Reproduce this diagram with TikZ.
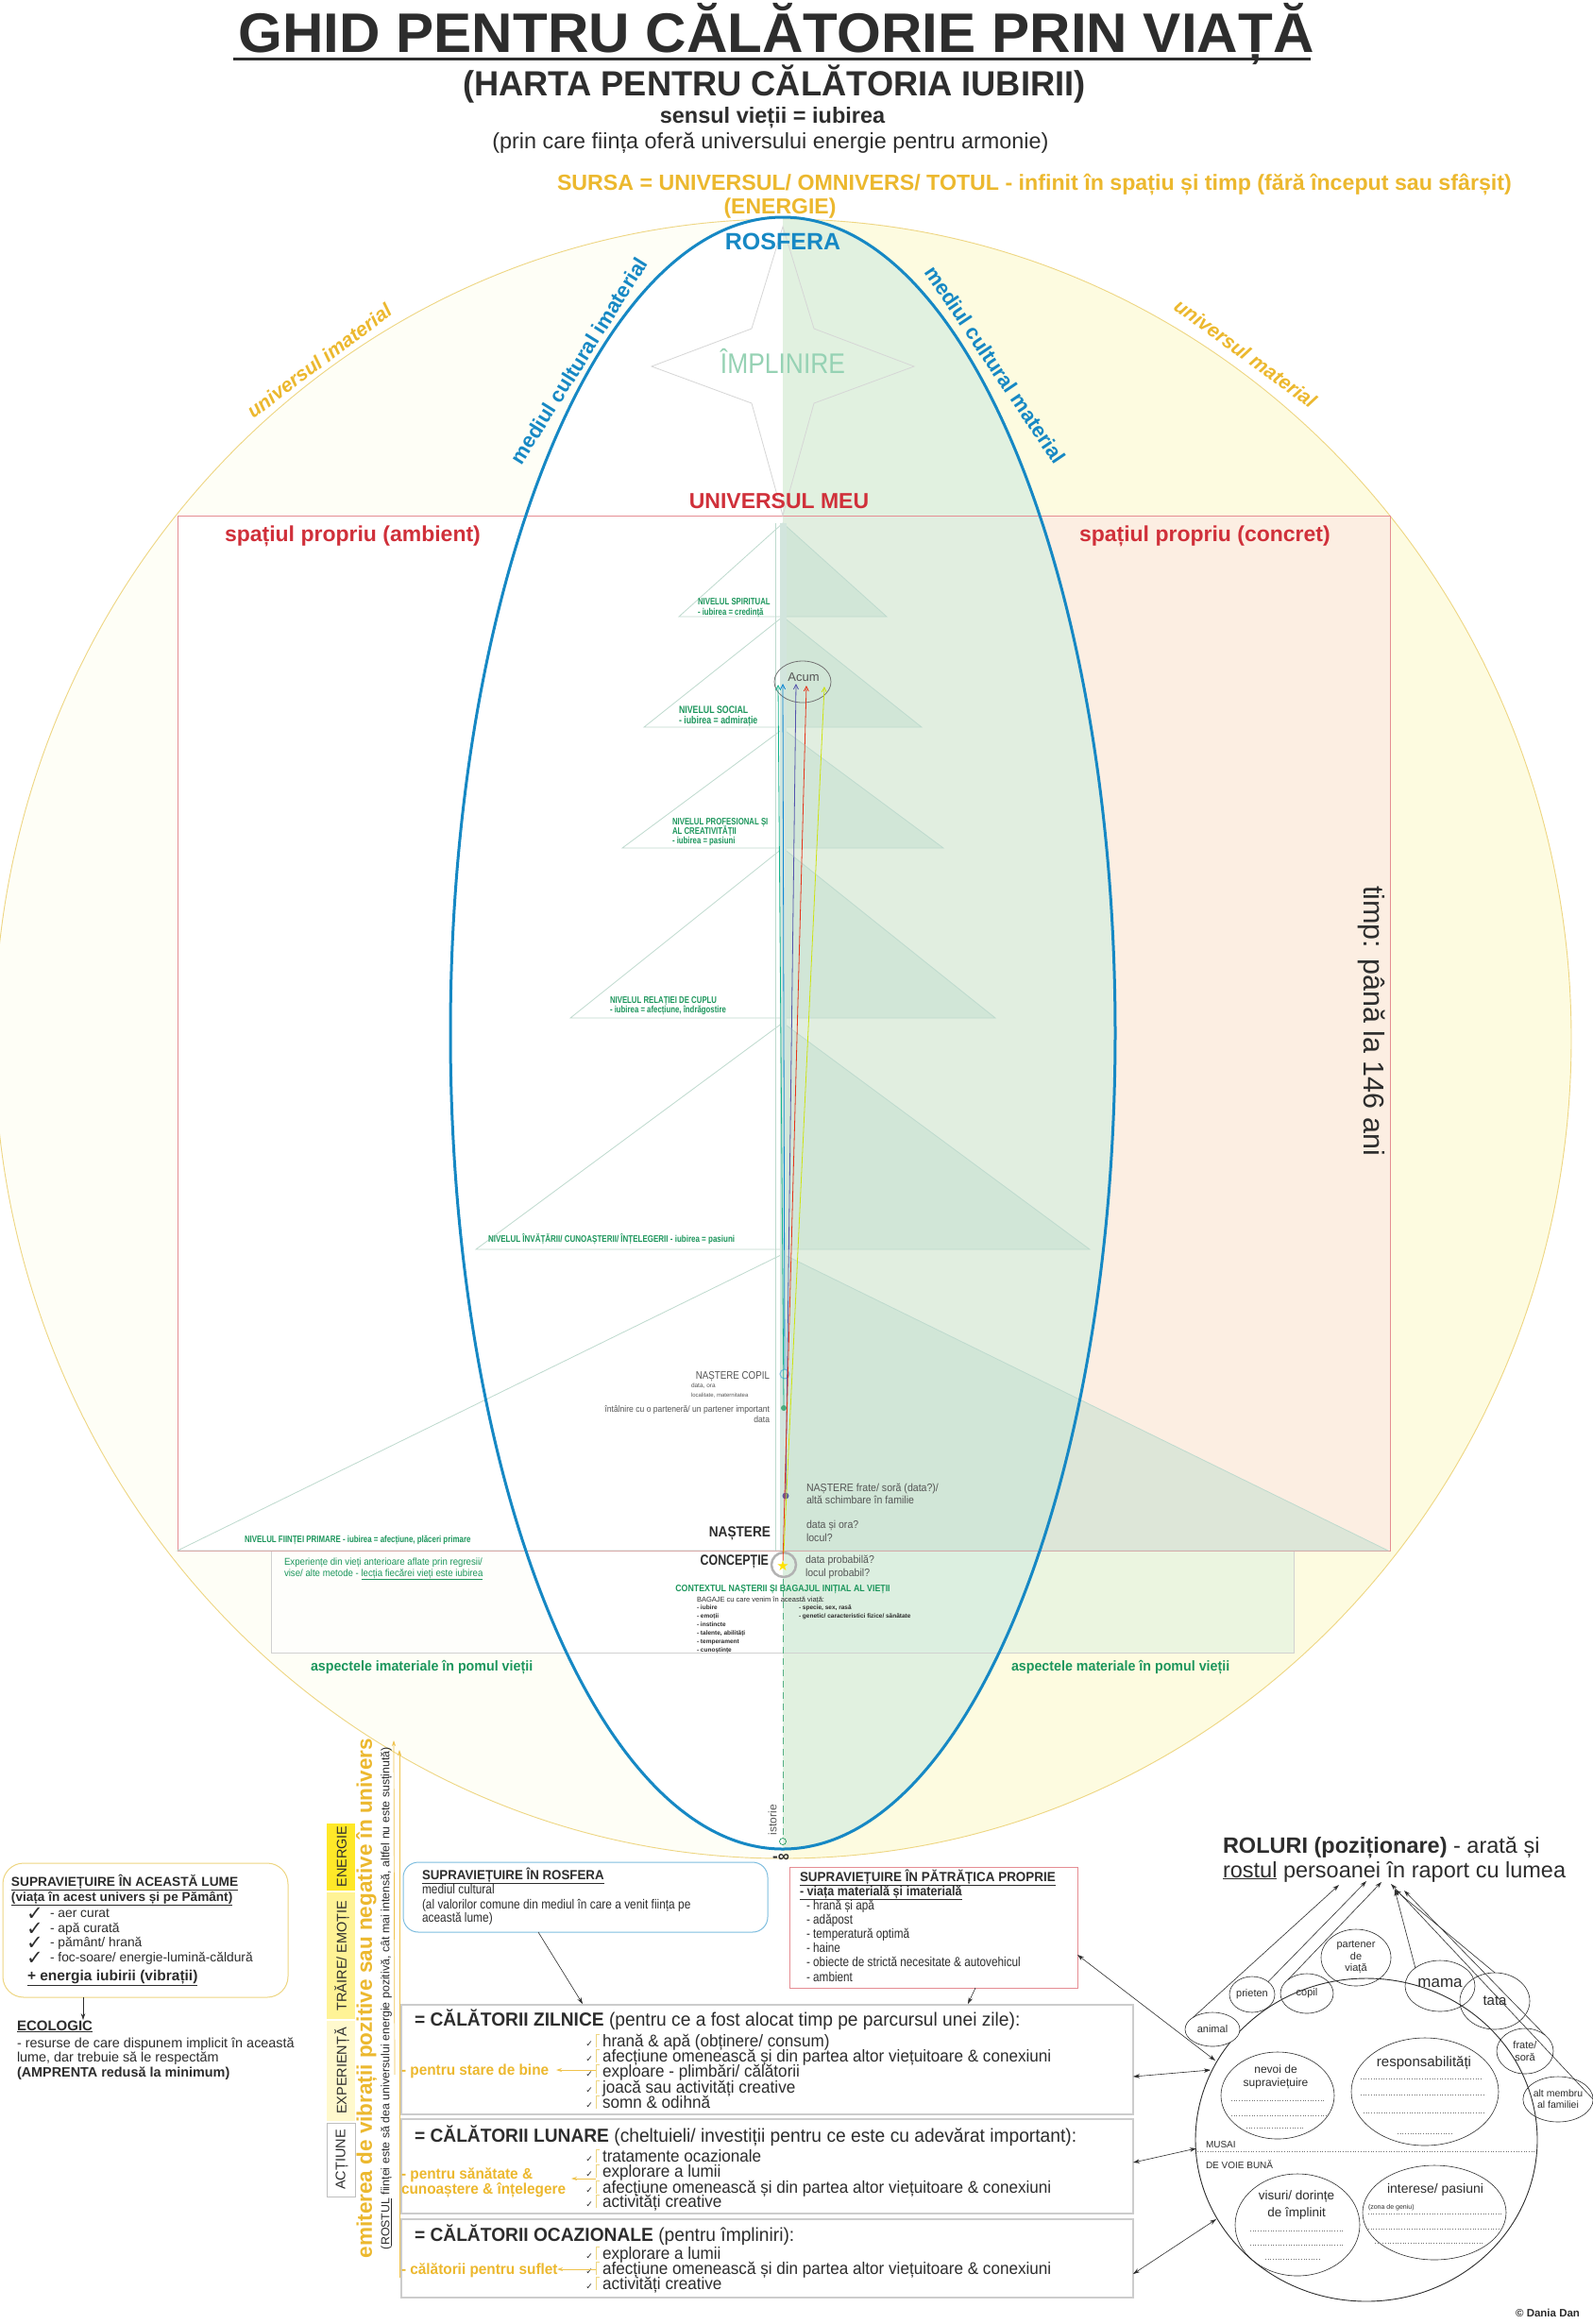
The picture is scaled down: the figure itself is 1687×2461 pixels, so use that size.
\documentclass[tikz,border=0pt]{standalone}
\usepackage{fontspec}
\setmainfont{Liberation Sans}
\newfontfamily\dv{DejaVu Sans}
\usepackage{graphicx}
\usetikzlibrary{arrows.meta,shapes.geometric}
\definecolor{gold}{RGB}{236,184,46}
\definecolor{rblue}{RGB}{22,136,196}
\definecolor{tgreen}{RGB}{28,150,92}
\definecolor{rred}{RGB}{208,48,58}
\definecolor{peach}{RGB}{252,238,226}
\definecolor{lyel}{RGB}{253,251,224}
\definecolor{lgreen}{RGB}{214,238,224}
\definecolor{trig}{RGB}{190,218,206}
\definecolor{trif}{RGB}{196,224,208}
\definecolor{txt}{RGB}{45,45,45}
\definecolor{midt}{RGB}{85,85,85}
\definecolor{yline}{RGB}{238,214,130}
\definecolor{impl}{RGB}{150,210,180}
\definecolor{hl1}{RGB}{255,232,40}
\definecolor{hl2}{RGB}{255,243,150}
\definecolor{hl3}{RGB}{255,249,205}
\newcommand{\fs}[2]{\fontsize{#1}{#2}\selectfont}
\newcommand{\nar}[2][0.86]{\scalebox{#1}[1]{#2}}
\newcommand{\ck}{{\dv ✓}}
\begin{document}
\begin{tikzpicture}[x=1pt,y=-1pt,
  every node/.style={inner sep=0pt,outer sep=0pt,text=txt},
  bw/.style={anchor=base west}, be/.style={anchor=base east}, bc/.style={anchor=base},
  lv/.style={anchor=base west,text=tgreen,font=\bfseries\fs{10}{11}},
  mt/.style={text=midt},
  arr/.style={-{Stealth[length=7pt,width=4.5pt]},line width=0.6pt,draw=txt},
  darr/.style={{Stealth[length=7pt,width=4.5pt]}-{Stealth[length=7pt,width=4.5pt]},line width=0.6pt,draw=txt},
  yarr/.style={-{Stealth[length=6pt,width=4pt]},line width=0.8pt,draw=gold!85},
  tripbox/.style={draw=black!20,line width=1.6pt,anchor=north west,fill=white},
  role/.style={draw=txt,ellipse,line width=0.6pt,align=center,font=\fs{11}{12.5}},
  dotl/.style={dotted,line width=0.7pt,draw=black!55},
  acl/.style={-{Straight Barb[length=5pt,width=5pt]},line width=0.8pt},
  itm/.style={anchor=base west,font=\fs{18}{18}},
  ckm/.style={anchor=base east,font=\fs{9}{9}},
  ylab/.style={anchor=base west,text=gold,font=\bfseries\fs{16}{16}},
]
\useasboundingbox (0,0) rectangle (1687,2461);
\fill[white] (0,0) rectangle (1687,2461);
% ---------- yellow universe ----------
\begin{scope}
 \clip (829,0) rectangle (1687,2461);
 \fill[lyel] (829,1100) ellipse [x radius=835,y radius=868];
\end{scope}
\begin{scope}
 \clip (0,0) rectangle (829,2461);
 \fill[lyel!30] (829,1100) ellipse [x radius=835,y radius=868];
\end{scope}
\draw[yline,line width=0.9pt] (829,1100) ellipse [x radius=835,y radius=868];
% ---------- red rectangle (universul meu) ----------
\fill[white] (188,546) rectangle (829,1642);
\fill[peach] (829,546) rectangle (1472,1642);
% ---------- rosfera halves ----------
\begin{scope}
 \clip (0,0) rectangle (829,2461);
 \fill[white] (829,1094) ellipse [x radius=352,y radius=864];
\end{scope}
\begin{scope}
 \clip (829,0) rectangle (1687,2461);
 \fill[lgreen,opacity=0.7] (829,1094) ellipse [x radius=352,y radius=864];
\end{scope}
% ---------- bottom strip ----------
\fill[white,opacity=0.6] (287,1642) rectangle (829,1750);
\fill[lgreen,opacity=0.45] (829,1642) rectangle (1370,1750);
\draw[black!18,line width=0.8pt] (287,1642) rectangle (1370,1750);
\draw[rred!55,line width=1pt] (188,546) rectangle (1472,1642);
% ---------- star (implinire) ----------
\draw[black!16,line width=0.8pt] (829,240)--(862,348)--(968,388)--(862,427)--(829,546)--(796,427)--(690,388)--(796,348)--cycle;
% ---------- tree ----------
\foreach \a/\b/\h in {554/653/110, 653/770/147, 772/898/170, 898/1078/225, 1083/1323/325, 1328/1642/641}{
  \fill[trif,opacity=0.55] (829,\a) -- (829+\h,\b) -- (829,\b) -- cycle;
  \draw[trig,line width=0.8pt] (829-\h,\b) -- (829,\a) -- (829+\h,\b) -- cycle;
}
\fill[trig!70] (826,554) rectangle (833,1642);
\draw[trig,line width=0.5pt] (821,554) -- (821,1642);
% ---------- rosfera outline ----------
\draw[rblue,line width=3pt] (829,1094) ellipse [x radius=352,y radius=864];
\draw[tgreen!75,dash pattern=on 7pt off 5pt,line width=1pt] (829,1672) -- (829,1945);
\node[draw=tgreen,circle,minimum size=7,line width=0.7pt] (hist) at (829,1950) {};
% ---------- title ----------
\node[bc,font=\bfseries\fs{59}{60}] (title) at (822,55) {\nar[1.02]{GHID PENTRU CĂLĂTORIE PRIN VIAȚĂ}};
\draw[txt,line width=3pt] (247,62) -- (1388,62);
\node[bc,font=\bfseries\fs{37}{38}] (sub) at (820,101) {\nar[0.98]{(HARTA PENTRU CĂLĂTORIA IUBIRII)}};
\node[bc,font=\bfseries\fs{23.5}{24}] (sens) at (818,130) {sensul vieții = iubirea};
\node[bc,font=\fs{23.4}{24}] (prin) at (816,157) {(prin care ființa oferă universului energie pentru armonie)};
\node[bw,text=gold,font=\bfseries\fs{23.2}{24}] (sursa) at (590,201) {SURSA = UNIVERSUL/ OMNIVERS/ TOTUL - infinit în spațiu și timp (fără început sau sfârșit)};
\node[bc,text=gold,font=\bfseries\fs{23}{24}] (energ) at (826,226) {(ENERGIE)};
\node[bc,text=rblue,font=\bfseries\fs{25}{26}] (rosf) at (829,264) {ROSFERA};
\node[bc,text=impl,font=\fs{30}{30}] (impl) at (829,395) {\nar[0.88]{ÎMPLINIRE}};
\node[text=rblue,font=\bfseries\fs{22}{22},rotate=58] (mci) at (613,382) {mediul cultural imaterial};
\node[text=rblue,font=\bfseries\fs{22}{22},rotate=-56] (mcm) at (1054,386) {mediul cultural material};
\node[text=gold,font=\bfseries\itshape\fs{21}{21},rotate=37] (ui) at (338,382) {universul imaterial};
\node[text=gold,font=\bfseries\itshape\fs{21}{21},rotate=-36] (um) at (1319,374) {universul material};
\node[bc,text=rred,font=\bfseries\fs{23}{24}] (umeu) at (825,538) {UNIVERSUL MEU};
\node[bw,text=rred,font=\bfseries\fs{23}{24}] (spa) at (238,573) {spațiul propriu (ambient)};
\node[bw,text=rred,font=\bfseries\fs{23}{24}] (spc) at (1143,573) {spațiul propriu (concret)};
\node[font=\fs{30.5}{31},rotate=-90] (timp) at (1453,1081) {timp: până la 146 ani};
% ---------- level labels ----------
\node[lv] (l1a) at (739,640) {\nar[0.78]{NIVELUL SPIRITUAL}};
\node[lv] (l1b) at (739,651) {\nar[0.78]{- iubirea = credință}};
\node[lv,font=\bfseries\fs{11}{12}] (l2a) at (719,755) {\nar[0.8]{NIVELUL SOCIAL}};
\node[lv,font=\bfseries\fs{11}{12}] (l2b) at (719,766) {\nar[0.8]{- iubirea = admirație}};
\node[lv] (l3a) at (712,873) {\nar[0.78]{NIVELUL PROFESIONAL ȘI}};
\node[lv] (l3b) at (712,883) {\nar[0.78]{AL CREATIVITĂȚII}};
\node[lv] (l3c) at (712,893) {\nar[0.78]{- iubirea = pasiuni}};
\node[lv] (l4a) at (646,1062) {\nar[0.78]{NIVELUL RELAȚIEI DE CUPLU}};
\node[lv] (l4b) at (646,1072) {\nar[0.78]{- iubirea = afecțiune, îndrăgostire}};
\node[lv] (l5) at (517,1315) {\nar[0.8]{NIVELUL ÎNVĂȚĂRII/ CUNOAȘTERII/ ÎNȚELEGERII - iubirea = pasiuni}};
\node[lv] (l6) at (259,1633) {\nar[0.79]{NIVELUL FIINȚEI PRIMARE - iubirea = afecțiune, plăceri primare}};
% ---------- acum ----------
\node[draw=black!55,ellipse,minimum width=60,minimum height=44,line width=0.8pt] (acum) at (850,722) {};
\node[bc,mt,font=\fs{13}{13}] (acumt) at (851,721) {Acum};
\node[draw=rblue!60,circle,minimum size=10,line width=1pt] (ncop) at (831,1455) {};
\node[fill=tgreen!80,circle,minimum size=6] (mdot) at (830,1491) {};
\node[fill=blue!30!gray,circle,minimum size=7] (sdot) at (832,1584) {};
\node[draw=black!30,circle,minimum size=26,line width=2.5pt] (conc) at (830,1657) {};
\node[text=yellow!85!orange,font=\dv\fs{15}{15}] (star) at (829,1658) {★};
\coordinate (a1) at (824,725); \coordinate (a2) at (829,724); \coordinate (a3) at (843,724);
\coordinate (a4) at (854,726); \coordinate (a5) at (873,727);
\draw[acl,draw=tgreen!70!cyan] (mdot) -- (a1);
\draw[acl,draw=cyan!70!blue] (ncop) -- (a2);
\draw[acl,draw=blue!35!gray] (sdot) -- (a3);
\draw[acl,draw=red!60!brown] (star) -- (a4);
\draw[acl,draw=yellow!80!green] (conc.north) -- (a5);
% ---------- middle texts ----------
\node[be,mt,font=\fs{11.5}{12}] (nc) at (815,1460) {\nar[0.85]{NAȘTERE COPIL}};
\node[bw,mt,font=\fs{6.5}{7}] (nc1) at (732,1469) {data, ora};
\node[bw,mt,font=\fs{6}{7}] (nc2) at (732,1479) {localitate, maternitatea};
\node[be,mt,font=\fs{9.5}{10}] (intl) at (815,1495) {\nar[0.9]{întâlnire cu o parteneră/ un partener important}};
\node[be,mt,font=\fs{9.5}{10}] (intl2) at (815,1506) {\nar[0.9]{data}};
\node[bw,mt,font=\fs{11.5}{12}] (nf1) at (854,1579) {\nar[0.92]{NAȘTERE frate/ soră (data?)/}};
\node[bw,mt,font=\fs{11.5}{12}] (nf2) at (854,1592) {\nar[0.92]{altă schimbare în familie}};
\node[bw,mt,font=\fs{11.5}{12}] (do1) at (854,1618) {\nar[0.92]{data și ora?}};
\node[bw,mt,font=\fs{11.5}{12}] (do2) at (854,1632) {\nar[0.92]{locul?}};
\node[be,font=\bfseries\fs{15.5}{16}] (nast) at (816,1627) {\nar[0.88]{NAȘTERE}};
\node[be,font=\bfseries\fs{15.5}{16}] (concp) at (814,1657) {\nar[0.8]{CONCEPȚIE}};
\node[bw,mt,font=\fs{11.5}{12}] (dp1) at (853,1655) {\nar[0.92]{data probabilă?}};
\node[bw,mt,font=\fs{11.5}{12}] (dp2) at (853,1669) {\nar[0.92]{locul probabil?}};
\node[bc,text=tgreen,font=\bfseries\fs{10}{11}] (ctx) at (829,1685) {\nar[0.88]{CONTEXTUL NAȘTERII ȘI BAGAJUL INIȚIAL AL VIEȚII}};
\node[bw,font=\fs{7.5}{8}] (bag) at (738,1696) {BAGAJE cu care venim în această viață:};
\node[bw,font=\bfseries\fs{6.5}{7}] (bg1) at (738,1704) {- iubire};
\node[bw,font=\bfseries\fs{6.5}{7}] (bg2) at (738,1713) {- emoții};
\node[bw,font=\bfseries\fs{6.5}{7}] (bg3) at (738,1722) {- instincte};
\node[bw,font=\bfseries\fs{6.5}{7}] (bg4) at (738,1731) {- talente, abilități};
\node[bw,font=\bfseries\fs{6.5}{7}] (bg5) at (738,1740) {- temperament};
\node[bw,font=\bfseries\fs{6.5}{7}] (bg6) at (738,1749) {- cunoștințe};
\node[bw,font=\bfseries\fs{6.5}{7}] (bg7) at (846,1704) {- specie, sex, rasă};
\node[bw,font=\bfseries\fs{6.5}{7}] (bg8) at (846,1713) {- genetic/ caracteristici fizice/ sănătate};
\node[bw,text=tgreen,font=\fs{10.5}{11}] (exp1) at (301,1657) {\nar[0.92]{Experiențe din vieți anterioare aflate prin regresii/}};
\node[bw,text=tgreen,font=\fs{10.5}{11}] (exp2) at (301,1669) {\nar[0.92]{vise/ alte metode - \underline{lecția fiecărei vieți este iubirea}}};
\node[bw,text=tgreen,font=\bfseries\fs{15}{16}] (aim) at (329,1769) {\nar[0.95]{aspectele imateriale în pomul vieții}};
\node[bw,text=tgreen,font=\bfseries\fs{15}{16}] (amt) at (1071,1769) {\nar[0.95]{aspectele materiale în pomul vieții}};
\node[mt,font=\fs{12}{12},rotate=90] (ist) at (818,1927) {istorie};
\node[bc,font=\bfseries\fs{17}{17}] (minf) at (827,1971) {-∞};
% ---------- left box ----------
\node[draw=yline,rounded corners=22,line width=1pt,minimum width=302,minimum height=142,anchor=north west] (b1) at (3,1973) {};
\node[bw,font=\bfseries\fs{13.7}{14}] (b1t) at (12,1997) {\underline{SUPRAVIEȚUIRE ÎN ACEASTĂ LUME}};
\node[bw,font=\bfseries\fs{13.6}{14}] (b1s) at (12,2013) {\underline{(viața în acest univers și pe Pământ)}};
\foreach \yy/\tt [count=\i] in {2030/{- aer curat},2046/{- apă curată},2061/{- pământ/ hrană},2077/{- foc-soare/ energie-lumină-căldură}}{
  \node[bw,font=\dv\fs{21}{21}] (ck\i) at (28,\yy+3) {✓};
  \node[bw,font=\fs{13.8}{14}] (it\i) at (53,\yy) {\tt};
}
\node[bw,font=\bfseries\fs{15.5}{16}] (en) at (29,2097) {\underline{+ energia iubirii (vibrații)}};
\coordinate (e1) at (88,2139);
\draw[arr] (b1.south -| e1) -- (e1);
\node[bw,font=\bfseries\fs{15}{16}] (eco) at (18,2150) {\underline{ECOLOGIC}};
\node[bw,font=\fs{14.4}{15}] (eco1) at (18,2168) {- resurse de care dispunem implicit în această};
\node[bw,font=\fs{14.4}{15}] (eco2) at (18,2183) {lume, dar trebuie să le respectăm};
\node[bw,font=\bfseries\fs{14.4}{15}] (eco3) at (18,2199) {(AMPRENTA redusă la minimum)};
% ---------- vertical labels ----------
\fill[hl1] (346,1931) rectangle (376,2002);
\fill[hl2] (346,2004) rectangle (376,2138);
\fill[hl3] (346,2140) rectangle (376,2246);
\draw[black!25,fill=white,line width=0.6pt] (346,2248) rectangle (376,2326);
\node[font=\fs{14.5}{15},rotate=90] (ven) at (362,1966) {ENERGIE};
\node[font=\fs{14.5}{15},rotate=90] (vtr) at (362,2071) {TRĂIRE/ EMOȚIE};
\node[font=\fs{14.5}{15},rotate=90] (vex) at (362,2193) {EXPERIENȚĂ};
\node[font=\fs{14.5}{15},rotate=90] (vac) at (362,2287) {ACȚIUNE};
\node[text=gold,font=\bfseries\fs{22.5}{23},rotate=90] (emit) at (388,2116) {emiterea de vibrații pozitive sau negative în univers};
\node[font=\fs{12.4}{13},rotate=90] (rost) at (409,2116) {(\underline{ROSTUL} ființei este să dea universului energie pozitivă, cât mai intensă, altfel nu este susținută)};
\coordinate (yv1) at (417,1843); \coordinate (yv2) at (423,1853);
\coordinate (yb1) at (418,2197); \coordinate (yb2) at (423,2412);
\draw[yarr,line width=0.7pt] (yb1) -- (yv1);
\draw[yarr,line width=0.7pt] (yb2) -- (yv2);
% ---------- rosfera / patratica boxes ----------
\node[draw=rblue!55,rounded corners=16,line width=1pt,fill=white,minimum width=386,minimum height=74,anchor=north west] (rb) at (427,1972) {};
\node[bw,font=\bfseries\fs{14}{15}] (rbt) at (447,1990) {\nar[0.95]{\underline{SUPRAVIEȚUIRE ÎN ROSFERA}}};
\node[bw,font=\fs{14}{15}] (rb1) at (447,2005) {\nar[0.85]{mediul cultural}};
\node[bw,font=\fs{14}{15}] (rb2) at (447,2021) {\nar[0.85]{(al valorilor comune din mediul în care a venit ființa pe}};
\node[bw,font=\fs{14}{15}] (rb3) at (447,2035) {\nar[0.85]{această lume)}};
\node[draw=rred!55,line width=1pt,fill=white,minimum width=305,minimum height=128,anchor=north west] (pb) at (836,1977) {};
\node[bw,font=\bfseries\fs{14}{15}] (pbt) at (847,1992) {\nar[0.96]{\underline{SUPRAVIEȚUIRE ÎN PĂTRĂȚICA PROPRIE}}};
\node[bw,font=\bfseries\fs{14}{15}] (pbs) at (847,2007) {\nar[0.9]{\underline{- viața materială și imaterială}}};
\foreach \yy/\tt [count=\i] in {2022/{- hrană și apă},2037/{- adăpost},2052/{- temperatură optimă},2067/{- haine},2082/{- obiecte de strictă necesitate \& autovehicul},2098/{- ambient}}{
  \node[bw,font=\fs{14}{15}] (pi\i) at (854,\yy) {\nar[0.84]{\tt}};
}
% ---------- trip boxes ----------
\node[tripbox,minimum width=775,minimum height=116] (zb) at (425,2123) {};
\node[tripbox,minimum width=775,minimum height=100] (lb) at (425,2244) {};
\node[tripbox,minimum width=775,minimum height=83] (ob) at (425,2350) {};
\node[bw,font=\fs{20}{20}] (zt) at (439,2145) {\nar[0.96]{\textbf{= CĂLĂTORII ZILNICE} (pentru ce a fost alocat timp pe parcursul unei zile):}};
\node[bw,font=\fs{20}{20}] (lt) at (439,2268) {\nar[0.96]{\textbf{= CĂLĂTORII LUNARE} (cheltuieli/ investiții pentru ce este cu adevărat important):}};
\node[bw,font=\fs{20}{20}] (ot) at (439,2373) {\nar[0.96]{\textbf{= CĂLĂTORII OCAZIONALE} (pentru împliniri):}};
\foreach \yy/\tt [count=\i] in {2167/{hrană \& apă (obținere/ consum)},2183/{afecțiune omenească și din partea altor viețuitoare \& conexiuni},2199/{exploare - plimbări/ călătorii},2216/{joacă sau activități creative},2232/{somn \& odihnă},
  2289/{tratamente ocazionale},2305/{explorare a lumii},2322/{afecțiune omenească și din partea altor viețuitoare \& conexiuni},2337/{activități creative},
  2392/{explorare a lumii},2408/{afecțiune omenească și din partea altor viețuitoare \& conexiuni},2424/{activități creative}}{
  \node[itm] (ti\i) at (638,\yy) {\nar[0.95]{\tt}};
  \node[ckm] (tc\i) at (628,\yy) {\ck};
  \draw[yline,line width=0.8pt] (631,\yy-13) -- (631,\yy+1) (631,\yy-13) -- (635,\yy-13);
}
\node[ylab] (lz) at (425,2197) {\nar[0.96]{- pentru stare de bine}};
\node[ylab] (ll1) at (425,2307) {\nar[0.96]{- pentru sănătate \&}};
\node[ylab] (ll2) at (425,2323) {\nar[0.96]{cunoaștere \& înțelegere}};
\node[ylab] (lo) at (425,2408) {\nar[0.96]{- călătorii pentru suflet}};
\coordinate (bz) at (631,2192); \coordinate (bl) at (631,2307); \coordinate (bo) at (631,2403);
\coordinate (bz2) at (589,2192); \coordinate (bl2) at (605,2307); \coordinate (bo2) at (590,2403);
\draw[yarr] (bz) -- (bz2);
\draw[yarr] (bl) -- (bl2);
\draw[yarr] (bo) -- (bo2);
% connectors between boxes
\coordinate (rbo) at (570,2046); \coordinate (zbi) at (617,2122);
\draw[arr] (rbo) -- (zbi);
\coordinate (pbo) at (1033,2105); \coordinate (zbj) at (1025,2122);
\draw[arr] (pbo) -- (zbj);
% ---------- roles ----------
\node[bw,font=\fs{23.5}{24}] (rol1) at (1295,1962) {\textbf{ROLURI (poziționare)} - arată și};
\node[bw,font=\fs{23.5}{24}] (rol2) at (1295,1988) {\underline{rostul} persoanei în raport cu lumea};
\node[draw=txt,ellipse,line width=0.9pt,minimum width=362,minimum height=342] (rc) at (1447,2266) {};
\draw[dotl] (1268,2278) -- (1627,2278);
\node[bw,font=\fs{10}{10}] (mus) at (1277,2274) {MUSAI};
\node[bw,font=\fs{10}{10}] (dvb) at (1277,2296) {DE VOIE BUNĂ};
\node[draw=txt,ellipse,line width=0.6pt,minimum width=120,minimum height=92] (nev) at (1353,2219) {};
\node[bc,font=\fs{12}{12}] (nev1) at (1351,2195) {nevoi de};
\node[bc,font=\fs{12}{12}] (nev2) at (1351,2209) {supraviețuire};
\draw[dotl] (1304,2224) -- (1402,2224) (1304,2240) -- (1404,2240) (1320,2253) -- (1380,2253);
\node[draw=txt,ellipse,line width=0.6pt,minimum width=156,minimum height=114] (resp) at (1509,2215) {};
\node[bc,font=\fs{15}{15}] (resp1) at (1508,2188) {responsabilități};
\draw[dotl] (1441,2201) -- (1568,2201) (1441,2218) -- (1572,2218) (1444,2237) -- (1572,2237) (1480,2259) -- (1538,2259);
\node[draw=txt,ellipse,line width=0.6pt,minimum width=132,minimum height=108] (vis) at (1374,2356) {};
\node[bc,font=\fs{13.5}{14}] (vis1) at (1373,2329) {visuri/ dorințe};
\node[bc,font=\fs{13.5}{14}] (vis2) at (1373,2347) {de împlinit};
\draw[dotl] (1324,2362) -- (1422,2362) (1324,2377) -- (1423,2377) (1340,2392) -- (1398,2392);
\node[draw=txt,ellipse,line width=0.6pt,minimum width=152,minimum height=100] (int) at (1519,2343) {};
\node[bc,font=\fs{14}{14}] (int1) at (1520,2322) {interese/ pasiuni};
\node[bw,font=\fs{7}{7}] (int2) at (1449,2339) {(zona de geniu)};
\draw[dotl] (1449,2344) -- (1590,2344) (1449,2360) -- (1588,2360) (1456,2375) -- (1570,2375);
\node[role,fill=white,minimum width=58,minimum height=36] (ani) at (1284,2149) {animal};
\node[role,minimum width=48,minimum height=38] (prie) at (1326,2112) {prieten};
\node[role,minimum width=56,minimum height=42] (cop) at (1384,2111) {\raisebox{-5pt}{copil}};
\node[role,minimum width=74,minimum height=60] (part) at (1436,2073) {partener\\de\\viață};
\node[role,font=\fs{17}{17},minimum width=74,minimum height=54] (mama) at (1525,2103) {\raisebox{7pt}{mama}};
\node[role,font=\fs{15}{15},minimum width=74,minimum height=60] (tata) at (1583,2119) {tata};
\node[role,minimum width=60,minimum height=48] (frat) at (1615,2172) {frate/\\soră};
\node[role,font=\fs{10.5}{12},minimum width=74,minimum height=48] (alt) at (1650,2223) {alt membru\\al familiei};
\coordinate (r1) at (1418,1996); \coordinate (r2) at (1447,1992); \coordinate (r3) at (1463,1993);
\coordinate (r4) at (1473,1995); \coordinate (r5) at (1477,2001); \coordinate (r6) at (1487,2002);
\draw[arr] (ani.north west) -- (r1);
\draw[arr] (prie.north east) -- (r2);
\draw[arr] (cop.north west) -- (r3);
\draw[arr] (mama.north west) -- (r5);
\draw[arr] (alt.east) -- (r4);
\draw[arr] (frat.north east) -- (r6);
\draw[arr] (tata.north) -- (r5);
% box <-> circle
\coordinate (c1) at (1287,2182); \coordinate (c2) at (1282,2192); \coordinate (c3) at (1267,2275); \coordinate (c4) at (1288,2350);
\draw[darr] (pb.east |- 0,2070) -- (c1);
\draw[darr] (zb.east |- 0,2199) -- (c2);
\draw[darr] (lb.east |- 0,2290) -- (c3);
\draw[darr] (ob.east |- 0,2408) -- (c4);
\node[be,font=\bfseries\fs{11.5}{12}] (copy) at (1673,2453) {© Dania Dan};
\end{tikzpicture}
\end{document}
